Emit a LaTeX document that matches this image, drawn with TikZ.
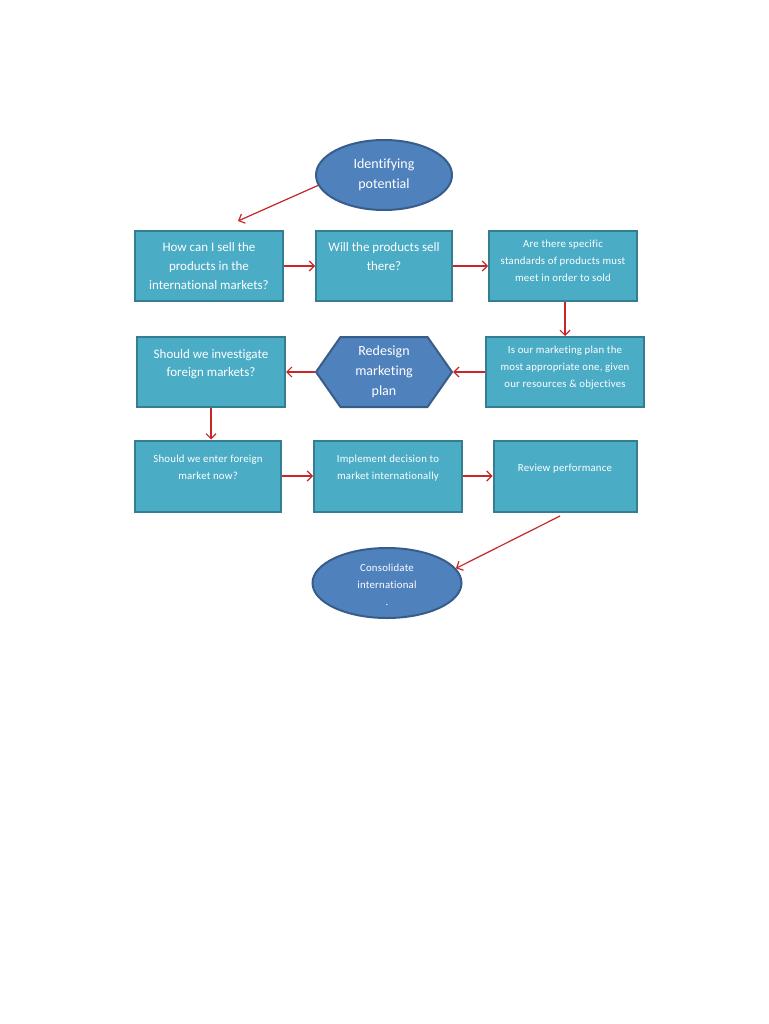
\documentclass[tikz,border=0pt]{standalone}
\usepackage{fontspec}
\setmainfont{Carlito}[Ligatures={NoCommon,NoRequired,NoContextual}]
\usetikzlibrary{arrows.meta,shapes.geometric,shapes.symbols}
\definecolor{boxfill}{HTML}{4BACC6}
\definecolor{boxline}{HTML}{357D91}
\definecolor{ovalfill}{HTML}{4F81BD}
\definecolor{ovalline}{HTML}{385D8A}
\definecolor{flow}{HTML}{C62828}
\newcommand\bigtxt{\fontsize{13}{19}\selectfont}
\newcommand\smalltxt{\fontsize{10.8}{17}\selectfont\addfontfeature{LetterSpace=2}}
\newcommand\headtxt{\fontsize{14}{20}\selectfont}

\begin{document}
\begin{tikzpicture}[x=1pt,y=-1pt,
  stepbox/.style={draw=boxline,fill=boxfill,line width=2pt,text=white,align=center,inner sep=0pt},
  oval/.style={ellipse,draw=ovalline,fill=ovalfill,line width=2pt,text=white,align=center,inner sep=0pt},
  hexbox/.style={signal,signal to=west and east,signal pointer angle=110,draw=ovalline,fill=ovalfill,line width=2pt,text=white,align=center,inner sep=0pt},
  flowarrow/.style={flow,line width=1.2pt,-{Straight Barb[length=5pt,width=10pt]}}]
  \fill[white] (0,0) rectangle (768,1024);
  \useasboundingbox (0,0) rectangle (768,1024);

  % top row
  \node[oval,minimum width=136,minimum height=70,font=\headtxt] (potential) at (384,175) {Identifying\\potential};
  \node[stepbox,minimum width=148,minimum height=70,font=\bigtxt] (sell) at (209,266) {How can I sell the\\products in the\\international markets?};
  \node[stepbox,minimum width=136,minimum height=70,font=\bigtxt] (willsell) at (384,266) {Will the products sell\\there?\\\mbox{}};
  \node[stepbox,minimum width=148,minimum height=70,font=\smalltxt] (standards) at (563,266) {Are there specific\\standards of products must\\meet in order to sold\\[-7pt]\mbox{}};

  % middle row
  \node[stepbox,minimum width=158,minimum height=70,font=\smalltxt] (planok) at (565,372) {Is our marketing plan the\\most appropriate one, given\\our resources \& objectives\\[-7pt]\mbox{}};
  \node[hexbox,minimum width=136,minimum height=70,font=\headtxt] (redesign) at (384,372) {Redesign\\marketing\\plan};
  \node[stepbox,minimum width=148,minimum height=70,font=\fontsize{13}{18}\selectfont] (investigate) at (211,372) {Should we investigate\\foreign markets?\\\mbox{}};

  % bottom row
  \node[stepbox,minimum width=146,minimum height=71,font=\smalltxt] (enter) at (208,476) {Should we enter foreign\\market now?\\\mbox{}};
  \node[stepbox,minimum width=148,minimum height=71,font=\smalltxt] (implement) at (388,476) {Implement decision to\\market internationally\\\mbox{}};
  \node[stepbox,minimum width=143,minimum height=71,font=\smalltxt] (review) at (565,476) {Review performance\\\mbox{}};
  \node[oval,minimum width=149,minimum height=70,font=\smalltxt] (consolidate) at (387,583) {\mbox{}\\[-6pt]Consolidate\\international\\.};

  \coordinate (sellin) at (238,221);
  \coordinate (reviewout) at (560,516);

  % connectors
  \draw[flowarrow] (potential.189) -- (sellin);
  \draw[flowarrow] (sell.east) -- (willsell.west);
  \draw[flowarrow] (willsell.east) -- (standards.west);
  \draw[flowarrow] (standards.south -| planok) -- (planok.north);
  \draw[flowarrow] (planok.west) -- (redesign.east);
  \draw[flowarrow] (redesign.west) -- (investigate.east);
  \draw[flowarrow] (investigate.south) -- (investigate.south |- enter.north);
  \draw[flowarrow] (enter.east) -- (implement.west);
  \draw[flowarrow] (implement.east) -- (review.west);
  \draw[flowarrow] (reviewout) -- (consolidate.12);
\end{tikzpicture}
\end{document}
